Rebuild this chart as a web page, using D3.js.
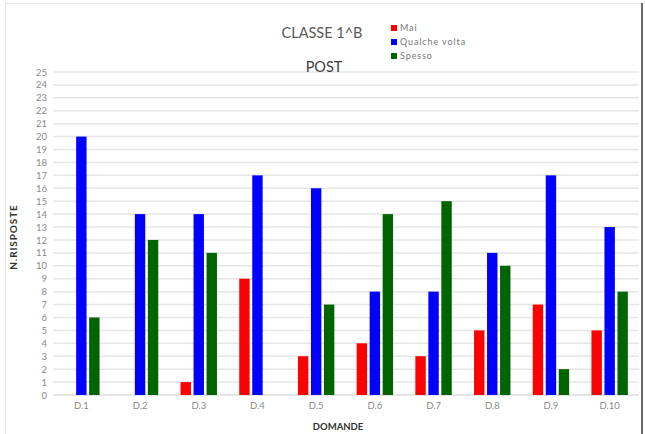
<!DOCTYPE html>
<html>
<head>
<meta charset="utf-8">
<script src="https://cdn.jsdelivr.net/npm/d3@7"></script>
<style>
  html, body { margin: 0; padding: 0; background: #fff; }
  svg { display: block; }
</style>
</head>
<body>
<svg id="chart" width="645" height="434"></svg>
<script>
// Questions on the x axis
const categories = ["D.1", "D.2", "D.3", "D.4", "D.5", "D.6", "D.7", "D.8", "D.9", "D.10"];
// Answer series
const seriesNames = ["Mai", "Qualche volta", "Spesso"];
const seriesColors = ["#ff0000", "#0000ff", "#006400"];
const mai = [0, 0, 1, 9, 3, 4, 3, 5, 7, 5];
const qualcheVolta = [20, 14, 14, 17, 16, 8, 8, 11, 17, 13];
const spesso = [6, 12, 11, 0, 7, 14, 15, 10, 2, 8];
// Y axis ticks
const yTicks = d3.range(0, 26);

const seriesValues = [mai, qualcheVolta, spesso];

const svg = d3.select("#chart");
const font = "Lato, 'Open Sans', sans-serif";

// outer frame
svg.append("line").attr("x1", 5).attr("x2", 642).attr("y1", 3.5).attr("y2", 3.5)
  .attr("stroke", "#e4e4e4").attr("stroke-width", 1);
svg.append("line").attr("x1", 5.5).attr("x2", 5.5).attr("y1", 3).attr("y2", 434)
  .attr("stroke", "#e4e4e4").attr("stroke-width", 1);
svg.append("line").attr("x1", 642).attr("x2", 642).attr("y1", 3).attr("y2", 434)
  .attr("stroke", "#6a6a6a").attr("stroke-width", 2);

const plotLeft = 52, plotRight = 639, plotTop = 72, plotBottom = 395;

const x0 = d3.scaleBand().domain(categories).range([plotLeft, plotRight]).padding(0);
const x1 = d3.scaleBand().domain(seriesNames).range([0, x0.bandwidth()])
  .paddingInner(0.2).paddingOuter(0.8575);
const y = d3.scaleLinear().domain([0, 25]).range([plotBottom, plotTop]);

// horizontal grid
svg.append("g").selectAll("line").data(yTicks).join("line")
  .attr("x1", plotLeft + 1).attr("x2", plotRight)
  .attr("y1", d => y(d)).attr("y2", d => y(d))
  .attr("stroke", d => d === 0 ? "#dcdcdc" : "#e6e6e6")
  .attr("stroke-width", 1.5);

// y axis labels
const yAxis = d3.axisLeft(y).tickValues(yTicks).tickSize(0).tickPadding(0).tickFormat(d3.format("d"));
const gy = svg.append("g").attr("transform", `translate(${plotLeft - 5},0)`).call(yAxis);
gy.select(".domain").remove();
gy.selectAll("text").attr("font-family", font).attr("font-size", 9.5).attr("fill", "#8a8a8a");

// x axis labels
const xAxis = d3.axisBottom(x0).tickSize(0).tickPadding(0);
const gx = svg.append("g").attr("transform", `translate(0,${plotBottom + 5})`).call(xAxis);
gx.select(".domain").remove();
gx.selectAll("text").attr("font-family", font).attr("font-size", 9.5).attr("fill", "#8a8a8a")
  .attr("dy", "0.9em");

// bars
const groups = svg.append("g").selectAll("g").data(categories).join("g")
  .attr("transform", d => `translate(${x0(d)},0)`);
groups.selectAll("rect")
  .data((c, i) => seriesNames.map((s, k) => ({ s, k, v: seriesValues[k][i] })).filter(d => d.v > 0))
  .join("rect")
  .attr("x", d => x1(d.s))
  .attr("width", x1.bandwidth())
  .attr("y", d => y(d.v))
  .attr("height", d => y(0) - y(d.v))
  .attr("fill", d => seriesColors[d.k]);

// titles
svg.append("text").attr("x", 322).attr("y", 38).attr("text-anchor", "middle")
  .attr("font-family", font).attr("font-size", 14.5).attr("fill", "#595959").text("CLASSE 1^B");
svg.append("text").attr("x", 324).attr("y", 72).attr("text-anchor", "middle")
  .attr("font-family", font).attr("font-size", 14.5).attr("fill", "#404040").text("POST");

// legend
const legend = svg.append("g").selectAll("g").data(seriesNames).join("g")
  .attr("transform", (d, i) => `translate(391,${28 + i * 14})`);
legend.append("rect").attr("x", 0).attr("y", -3).attr("width", 6).attr("height", 6)
  .attr("fill", (d, i) => seriesColors[i]);
legend.append("text").attr("x", 9).attr("y", 0).attr("dy", "0.35em")
  .attr("font-family", font).attr("font-size", 9).attr("letter-spacing", 0.9)
  .attr("fill", "#777").text(d => d);

// axis titles
svg.append("text").attr("transform", "translate(17,237) rotate(-90)").attr("text-anchor", "middle")
  .attr("font-family", font).attr("font-size", 10).attr("font-weight", "bold").attr("fill", "#333")
  .attr("letter-spacing", 0.9).text("N.RISPOSTE");
svg.append("text").attr("x", 338).attr("y", 430).attr("text-anchor", "middle")
  .attr("font-family", font).attr("font-size", 9.5).attr("font-weight", "bold").attr("fill", "#333")
  .text("DOMANDE");
</script>
</body>
</html>
